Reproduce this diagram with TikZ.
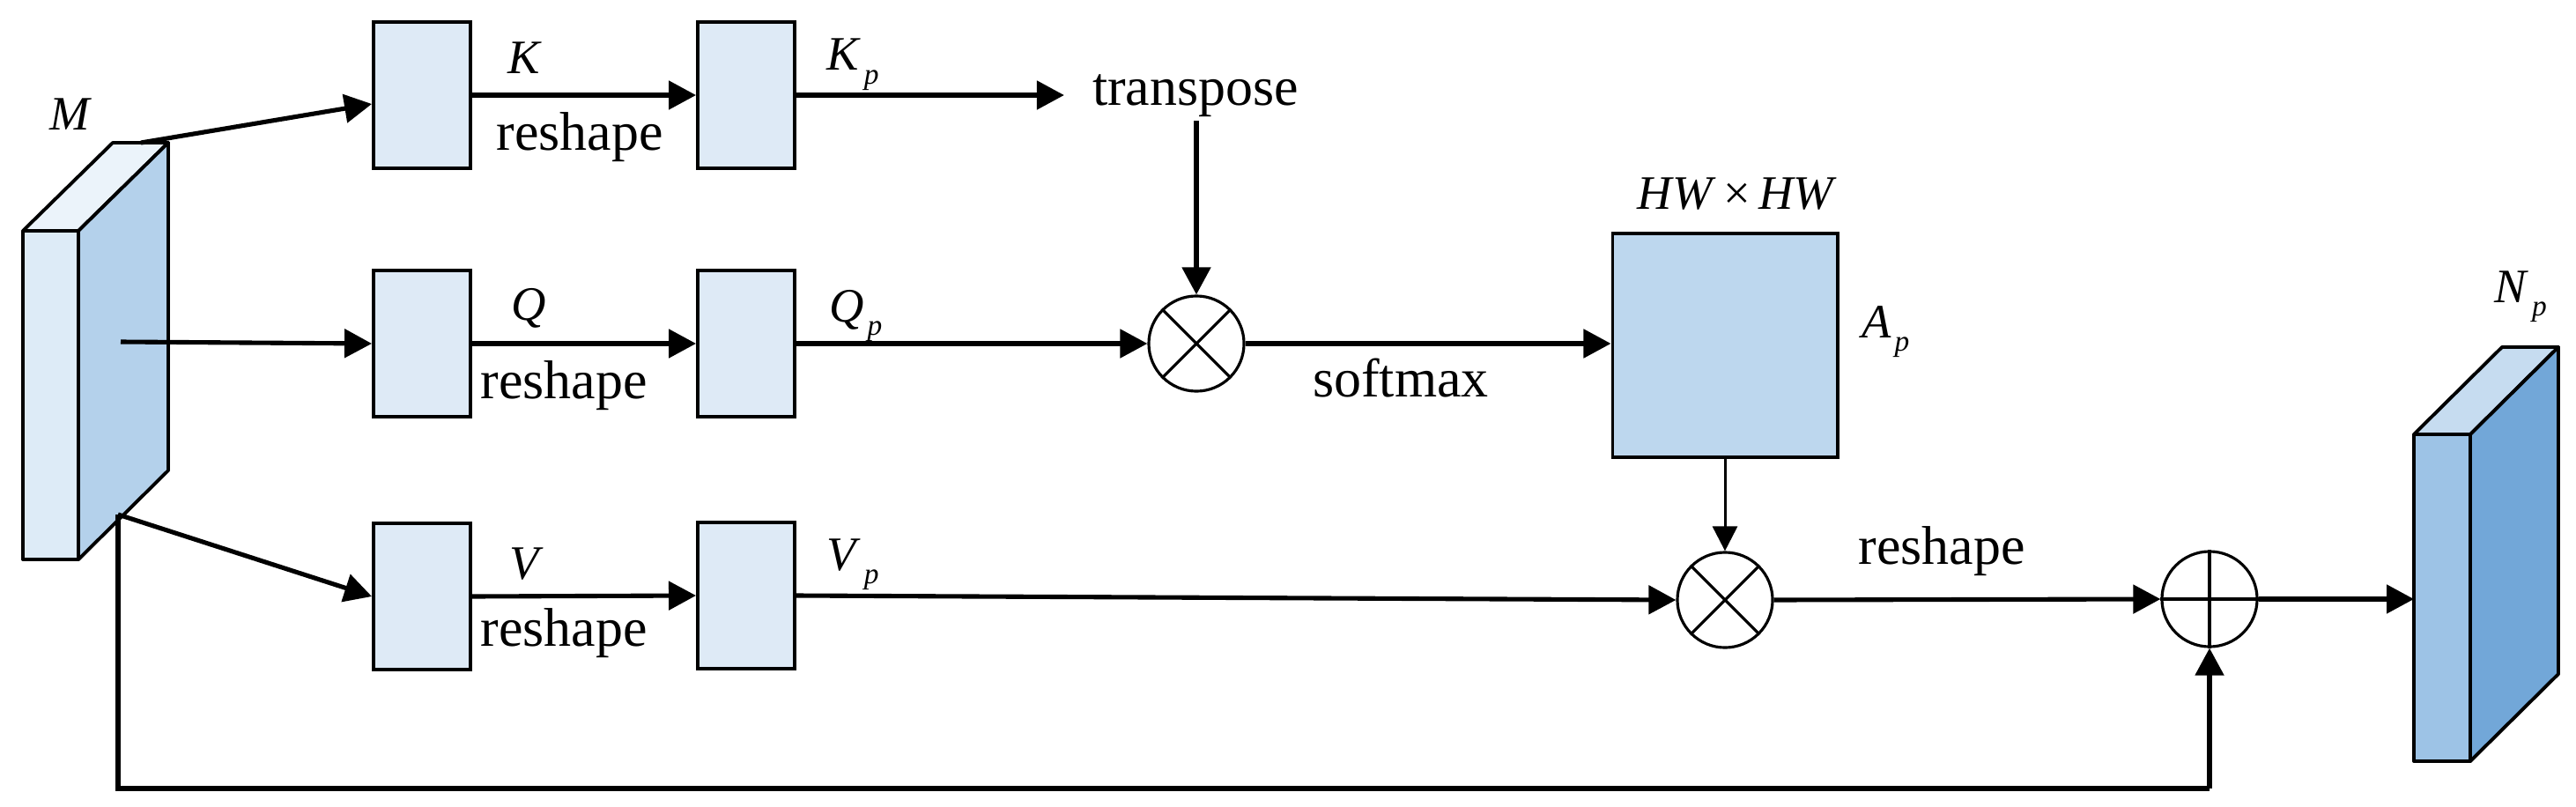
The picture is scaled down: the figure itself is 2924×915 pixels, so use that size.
\documentclass[tikz,border=0pt]{standalone}
\usepackage{fontspec}
\setmainfont{Liberation Serif}
\usetikzlibrary{arrows.meta}
\definecolor{boxfill}{HTML}{DEEAF6}
\definecolor{afill}{HTML}{BDD7EE}
\definecolor{mfront}{HTML}{DDEBF7}
\definecolor{mside}{HTML}{B4D1EB}
\definecolor{mtop}{HTML}{EBF3FA}
\definecolor{nfront}{HTML}{9DC3E6}
\definecolor{nside}{HTML}{72A7D8}
\definecolor{ntop}{HTML}{C6DCF0}
\newcommand{\wsub}[2]{\textit{#1}\kern1pt\raisebox{-4.5pt}{\fontsize{9.5}{10}\selectfont\textit{#2}}}
\begin{document}
\begin{tikzpicture}[x=0.01cm, y=-0.01cm,
  conn/.style={line width=1.45pt, -{Triangle[length=0.31cm,width=0.32cm]}},
  thinconn/.style={line width=0.85pt, -{Triangle[length=0.28cm,width=0.28cm]}},
  plainline/.style={line width=1.45pt},
  face/.style={draw, line width=1.1pt, line join=round},
  smallbox/.style={draw, line width=1.1pt, fill=boxfill, minimum width=1.1cm, minimum height=1.66cm, inner sep=0pt},
  opcirc/.style={draw, circle, line width=0.9pt, minimum size=1.08cm, inner sep=0pt},
  word/.style={font=\fontsize{17.6}{20}\selectfont, inner sep=1pt},
  lbl/.style={font=\fontsize{15.5}{18}\selectfont, inner sep=0pt}
]
\useasboundingbox (0,0) rectangle (2924,915);

% ---- input block M ----
\filldraw[face, fill=mfront] (26,262) rectangle (89,635);
\filldraw[face, fill=mtop] (26,262) -- (128,162) -- (191,162) -- (89,262) -- cycle;
\filldraw[face, fill=mside] (89,262) -- (191,162) -- (191,534) -- (89,635) -- cycle;
\node[lbl] (Mlbl) at (80,130) {\textit{M}};
\coordinate (Mk) at (160,162);
\coordinate (Mq) at (137,388);
\coordinate (Mv) at (134,584);
\coordinate (Mb) at (134,895);

% ---- output block N_p ----
\filldraw[face, fill=nfront] (2740,493) rectangle (2804,864);
\filldraw[face, fill=ntop] (2740,493) -- (2840,394) -- (2904,394) -- (2804,493) -- cycle;
\filldraw[face, fill=nside] (2804,493) -- (2904,394) -- (2904,765) -- (2804,864) -- cycle;
\node[lbl, anchor=base west] (Nlbl) at (2831,343) {\wsub{N}{p}};
\coordinate (Nin) at (2740,680);

% ---- small boxes ----
\node[smallbox] (K1) at (479,108) {};
\node[smallbox] (K2) at (847,108) {};
\node[smallbox] (Q1) at (479,390) {};
\node[smallbox] (Q2) at (847,390) {};
\node[smallbox] (V1) at (479,677) {};
\node[smallbox] (V2) at (847,676) {};

% ---- attention map ----
\node[draw, line width=1.1pt, fill=afill, minimum width=2.55cm, minimum height=2.53cm, inner sep=0pt] (A) at (1958,392) {};
\node[lbl] (HW) at (1972,220) {\textit{HW}\,×\,\textit{HW}};
\node[lbl, anchor=base west] (Alb) at (2113,383) {\wsub{A}{p}};

% ---- operators ----
\node[opcirc] (mul1) at (1358,390) {};
\draw[line width=0.9pt] (mul1.45) -- (mul1.225) (mul1.135) -- (mul1.315);
\node[opcirc] (mul2) at (1958,681) {};
\draw[line width=0.9pt] (mul2.45) -- (mul2.225) (mul2.135) -- (mul2.315);
\node[opcirc] (add) at (2508,680) {};
\draw[line width=0.9pt] (add.north) -- (add.south) (add.west) -- (add.east);

% ---- texts ----
\node[lbl, anchor=base] (Klbl) at (596,83) {\textit{K}};
\node[lbl, anchor=base] (Qlbl) at (600,363) {\textit{Q}};
\node[lbl, anchor=base] (Vlbl) at (598,657) {\textit{V}};
\node[word, anchor=base] (rsK) at (658,170) {reshape};
\node[word, anchor=base] (rsQ) at (640,452) {reshape};
\node[word, anchor=base] (rsV) at (640,733) {reshape};
\node[lbl, anchor=base west] (Kp) at (938,80) {\wsub{K}{p}};
\node[lbl, anchor=base west] (Qp) at (941,365) {\wsub{Q}{p}};
\node[lbl, anchor=base west] (Vp) at (938,647) {\wsub{V}{p}};
\node[word, anchor=base] (tr) at (1357,120) {transpose};
\node[word, anchor=base] (sm) at (1590,450) {softmax};
\node[word, anchor=base] (rsO) at (2204,640) {reshape};

% ---- connectors ----
\draw[conn] (Mk) -- ([yshift=-0.1cm]K1.west);
\draw[conn] (Mq) -- (Q1.west);
\draw[conn] (Mv) -- (V1.west);
\draw[conn] (K1.east) -- (K2.west);
\draw[conn] (Q1.east) -- (Q2.west);
\draw[conn] (V1.east) -- (V2.west);
\draw[conn, shorten >=0.28cm] (K2.east) -- (K2.east -| tr.west);
\draw[conn] (tr.south -| mul1.north) -- (mul1.north);
\draw[conn] (Q2.east) -- (mul1.west);
\draw[conn] (mul1.east) -- (mul1.east -| A.west);
\draw[thinconn] (A.south -| mul2.north) -- (mul2.north);
\draw[conn] (V2.east) -- (mul2.west);
\draw[conn] (mul2.east) -- (add.west);
\draw[conn] (add.east) -- (Nin);
\draw[plainline, line join=miter] (Mv) -- (Mb) -- (Mb -| add.south);
\draw[conn] (Mb -| add.south) -- (add.south);
\end{tikzpicture}
\end{document}
